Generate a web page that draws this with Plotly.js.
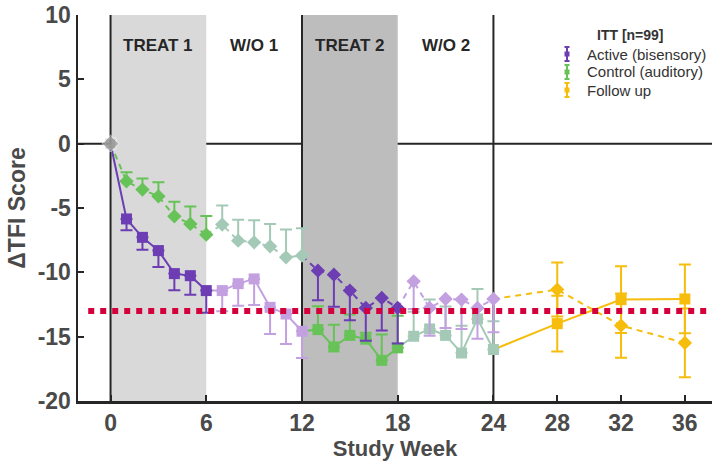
<!DOCTYPE html>
<html><head><meta charset="utf-8">
<script src="https://cdn.plot.ly/plotly-3.0.1.min.js"></script>
<style>html,body{margin:0;padding:0;background:#fff;}#chart{width:712px;height:463px;}</style>
</head><body><div id="chart"></div>
<script>
// ---------- data ----------
const baseWeek = 0;
const baseValue = 0;
const weeksTreat1 = [1, 2, 3, 4, 5, 6];
const weeksWashout1 = [7, 8, 9, 10, 11, 12];
const weeksTreat2 = [13, 14, 15, 16, 17, 18];
const weeksWashout2 = [19, 20, 21, 22, 23, 24];
const weeksFollowUp = [28, 32, 36];

// group starting with active (squares, solid line)
const sqTreat1 = [-5.85, -7.28, -8.31, -10.10, -10.26, -11.42];
const sqTreat1Err = [0.88, 0.96, 1.27, 1.30, 1.48, 1.73];
const sqWashout1 = [-11.42, -10.88, -10.51, -12.72, -13.24, -14.58];
const sqWashout1Err = [1.60, 1.71, 2.02, 2.07, 2.33, 2.07];
const sqTreat2 = [-14.45, -15.80, -14.90, -15.20, -16.84, -15.87];
const sqTreat2Err = [1.81, 1.73, 1.63, 0.50, 2.00, 2.50];
const sqWashout2 = [-14.97, -14.40, -14.90, -16.27, -13.62, -16.00];
const sqWashout2Err = [1.90, 2.28, 2.25, 2.12, 2.33, 2.20];
const sqFollowUp = [-13.99, -12.12, -12.07];
const sqFollowUpErr = [2.17, 2.60, 2.67];

// group starting with control (diamonds, dashed line)
const dmTreat1 = [-2.93, -3.57, -4.09, -5.65, -6.24, -7.07];
const dmTreat1Err = [0.70, 0.86, 1.09, 1.14, 1.35, 1.45];
const dmWashout1 = [-6.29, -7.54, -7.67, -7.98, -8.83, -8.70];
const dmWashout1Err = [1.48, 1.63, 1.71, 1.73, 2.15, 2.12];
const dmTreat2 = [-9.87, -10.18, -11.42, -12.77, -11.99, -12.77];
const dmTreat2Err = [2.30, 2.50, 2.30, 2.54, 2.54, 2.77];
const dmWashout2 = [-10.70, -12.77, -12.07, -12.12, -12.77, -12.07];
const dmWashout2Err = [2.15, 2.15, 2.25, 2.28, 2.40, 2.59];
const dmFollowUp = [-11.34, -14.14, -15.49];
const dmFollowUpErr = [2.10, 2.50, 2.67];

const mcidValue = -13;
const phaseLabels = ['TREAT 1', 'W/O 1', 'TREAT 2', 'W/O 2'];
const phaseCenters = [3, 9, 15, 21];
const shadeStarts = [0, 12];
const shadeEnds = [6, 18];
const phaseDividers = [0, 12, 24];
const xTickVals = [0, 6, 12, 18, 24, 28, 32, 36];
const yTickVals = [-20, -15, -10, -5, 0, 5, 10];
const legendTitle = 'ITT [n=99]';
const legendLabels = ['Active (bisensory)', 'Control (auditory)', 'Follow up'];

// ---------- style ----------
const C = {
  active: '#6c3db3', activeLight: '#c3a1e1',
  control: '#67c257', controlLight: '#a4cab7',
  follow: '#f6bd0c', base: '#9a9a9a', mcid: '#d5003b',
  ink: '#262626', label: '#4a4a4a'
};
const FONT = 'Liberation Sans, Arial, Helvetica, sans-serif';

const lineTraces = [];
const markerTraces = [];
function zeros(a) { return a.map(() => 0); }
function phase(weeks, vals, up, down, prevW, prevV, color, symbol, dash, mode) {
  lineTraces.push({
    x: [prevW].concat(weeks), y: [prevV].concat(vals),
    mode: 'lines', line: {color: color, width: 2, dash: dash},
    hoverinfo: 'skip', showlegend: false
  });
  markerTraces.push({
    x: weeks, y: vals, mode: 'markers',
    marker: {symbol: symbol, size: 11, color: color},
    error_y: {type: 'data', symmetric: mode === 'sym', array: up, arrayminus: down,
              color: color, thickness: 2, width: 6},
    showlegend: false
  });
}
const last = a => a[a.length - 1];
// squares
phase(weeksTreat1, sqTreat1, zeros(sqTreat1), sqTreat1Err, baseWeek, baseValue, C.active, 'square', 'solid');
phase(weeksWashout1, sqWashout1, zeros(sqWashout1), sqWashout1Err, last(weeksTreat1), last(sqTreat1), C.activeLight, 'square', 'solid');
phase(weeksTreat2, sqTreat2, sqTreat2Err, zeros(sqTreat2), last(weeksWashout1), last(sqWashout1), C.control, 'square', 'solid');
phase(weeksWashout2, sqWashout2, sqWashout2Err, zeros(sqWashout2), last(weeksTreat2), last(sqTreat2), C.controlLight, 'square', 'solid');
phase(weeksFollowUp, sqFollowUp, sqFollowUpErr, sqFollowUpErr, last(weeksWashout2), last(sqWashout2), C.follow, 'square', 'solid', 'sym');
// diamonds
phase(weeksTreat1, dmTreat1, dmTreat1Err, zeros(dmTreat1), baseWeek, baseValue, C.control, 'diamond', '6px,5px');
phase(weeksWashout1, dmWashout1, dmWashout1Err, zeros(dmWashout1), last(weeksTreat1), last(dmTreat1), C.controlLight, 'diamond', '6px,5px');
phase(weeksTreat2, dmTreat2, zeros(dmTreat2), dmTreat2Err, last(weeksWashout1), last(dmWashout1), C.active, 'diamond', '6px,5px');
phase(weeksWashout2, dmWashout2, zeros(dmWashout2), dmWashout2Err, last(weeksTreat2), last(dmTreat2), C.activeLight, 'diamond', '6px,5px');
phase(weeksFollowUp, dmFollowUp, dmFollowUpErr, dmFollowUpErr, last(weeksWashout2), last(dmWashout2), C.follow, 'diamond', '6px,5px', 'sym');

const baseTrace = {
  x: [baseWeek, baseWeek], y: [baseValue, baseValue], mode: 'markers',
  marker: {symbol: ['square', 'diamond'], size: [11, 13], color: C.base},
  showlegend: false
};

// ---------- layout ----------
const W = 712, H = 463, ML = 78, MR = 0, MT = 15, MB = 62;
const px = x => (x - ML) / (W - ML - MR);
const py = y => (H - MB - y) / (H - MT - MB);

const shapes = [];
shadeStarts.forEach((s, i) => shapes.push({
  type: 'rect', xref: 'x', yref: 'y', x0: s, x1: shadeEnds[i], y0: -20, y1: 10,
  fillcolor: i === 0 ? '#d9d9d9' : '#bdbdbd', line: {width: 0}, layer: 'below'
}));
phaseDividers.forEach(d => shapes.push({
  type: 'line', xref: 'x', yref: 'y', x0: d, x1: d, y0: -20, y1: 10,
  line: {color: C.ink, width: 2}, layer: 'below'
}));
shapes.push({type: 'line', xref: 'paper', yref: 'y', x0: 0, x1: 1, y0: 0, y1: 0,
  line: {color: C.ink, width: 2}, layer: 'below'});
shapes.push({type: 'line', xref: 'x', yref: 'y', x0: -1.4, x1: 37.8, y0: mcidValue, y1: mcidValue,
  line: {color: C.mcid, width: 6, dash: '6px,6px'}, layer: 'above'});

// legend glyphs
const legendColors = [C.active, C.control, C.follow];
const legendY = [54, 72, 90];
const annotations = [];
legendLabels.forEach((lab, i) => {
  const gx = 567, gy = legendY[i];
  shapes.push({type: 'line', xref: 'paper', yref: 'paper', x0: px(gx), x1: px(gx), y0: py(gy - 7), y1: py(gy + 7), line: {color: legendColors[i], width: 2}});
  shapes.push({type: 'line', xref: 'paper', yref: 'paper', x0: px(gx - 2.5), x1: px(gx + 2.5), y0: py(gy - 7), y1: py(gy - 7), line: {color: legendColors[i], width: 2}});
  shapes.push({type: 'line', xref: 'paper', yref: 'paper', x0: px(gx - 2.5), x1: px(gx + 2.5), y0: py(gy + 7), y1: py(gy + 7), line: {color: legendColors[i], width: 2}});
  shapes.push({type: 'rect', xref: 'paper', yref: 'paper', x0: px(gx - 2.5), x1: px(gx + 2.5), y0: py(gy - 2.5), y1: py(gy + 2.5), fillcolor: legendColors[i], line: {width: 0}});
  annotations.push({xref: 'paper', yref: 'paper', x: px(585), y: py(gy), xanchor: 'left', yanchor: 'middle',
    text: lab, showarrow: false, font: {family: FONT, size: 15, color: '#333'}});
});
annotations.push({xref: 'paper', yref: 'paper', x: px(630), y: py(35), xanchor: 'center', yanchor: 'middle',
  text: legendTitle, showarrow: false, font: {family: FONT, size: 14, color: '#333', weight: 'bold'}});
phaseLabels.forEach((lab, i) => annotations.push({
  xref: 'x', yref: 'y', x: phaseCenters[i], y: 7.6, text: lab, showarrow: false,
  font: {family: FONT, size: 17, color: C.ink, weight: 'bold'}
}));

const layout = {
  width: W, height: H,
  margin: {l: ML, r: MR, t: MT, b: MB, pad: 0},
  paper_bgcolor: '#fff', plot_bgcolor: '#fff',
  showlegend: false,
  xaxis: {
    range: [-2.04, 37.7], tickvals: xTickVals, ticktext: xTickVals.map(String),
    ticks: 'inside', ticklen: 6, tickwidth: 2, tickcolor: C.ink,
    showline: true, linewidth: 2.5, linecolor: C.ink, showgrid: false, zeroline: false,
    tickfont: {family: FONT, size: 23, color: C.label, weight: 'bold'},
    title: {text: 'Study Week', font: {family: FONT, size: 22, color: C.label, weight: 'bold'}, standoff: 4}
  },
  yaxis: {
    range: [-20, 10], tickvals: yTickVals, ticktext: yTickVals.map(String),
    ticks: 'inside', ticklen: 6, tickwidth: 2, tickcolor: C.ink,
    showline: true, linewidth: 2.5, linecolor: C.ink, showgrid: false, zeroline: false,
    tickfont: {family: FONT, size: 23, color: C.label, weight: 'bold'},
    title: {text: 'ΔTFI Score', font: {family: FONT, size: 23, color: C.label, weight: 'bold'}, standoff: 6}
  },
  shapes: shapes, annotations: annotations
};

Plotly.newPlot('chart', lineTraces.concat(markerTraces).concat([baseTrace]), layout, {displayModeBar: false, staticPlot: true});
</script></body></html>
